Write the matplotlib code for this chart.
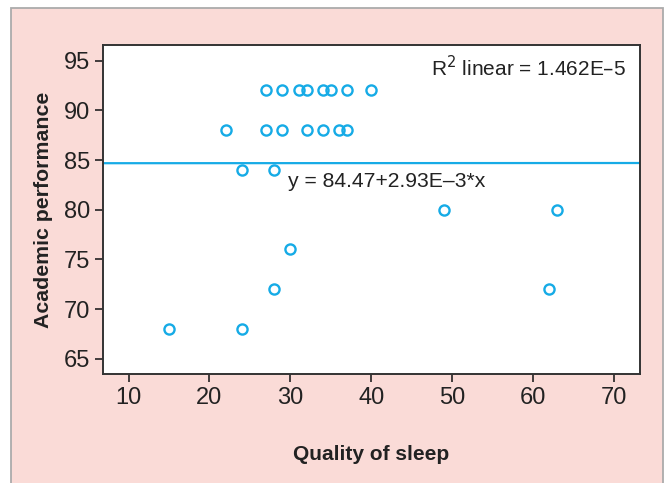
import matplotlib
matplotlib.use("Agg")
import matplotlib.pyplot as plt
from matplotlib.patches import Rectangle

plt.rcParams['font.family'] = ['Liberation Sans', 'DejaVu Sans']

# data
sleep_quality = [27, 29, 31, 32, 34, 35, 37, 40,
                 22, 27, 29, 32, 34, 36, 37,
                 24, 28,
                 49, 63,
                 30,
                 28, 62,
                 15, 24]
performance = [92, 92, 92, 92, 92, 92, 92, 92,
               88, 88, 88, 88, 88, 88, 88,
               84, 84,
               80, 80,
               76,
               72, 72,
               68, 68]
# fit line as drawn in the picture (ends at the axis limits)
fit_x = [6.84, 73.2]
fit_y = [84.68, 84.70]
r2_text = "R$^2$ linear = 1.462E\u20135"
eq_text = "y = 84.47+2.93E\u20133*x"

blue = "#16ABE6"
pink = "#FADBD7"

fig = plt.figure(figsize=(6.65, 4.83), dpi=100)
# pink panel, grey frame on left/top/right, open at the bottom
fig.patches.append(Rectangle((11 / 665, -0.05), (663 - 11) / 665, 1.05 - 8 / 483,
                             transform=fig.transFigure, facecolor=pink,
                             edgecolor="#ABABAB", linewidth=1.3, zorder=-10))

ax = fig.add_axes([103 / 665, 1 - 374 / 483, (640 - 103) / 665, (374 - 45) / 483])
ax.set_facecolor("white")

ax.plot(sleep_quality, performance, linestyle="none", marker="o", markersize=7.3,
        markerfacecolor="none", markeredgecolor=blue, markeredgewidth=1.7, zorder=3)
ax.plot(fit_x, fit_y, color=blue, linewidth=1.6, zorder=2)

ax.set_xlim(6.84, 73.2)
ax.set_ylim(63.46, 96.58)
ax.set_xticks(range(10, 71, 10))
ax.set_yticks(range(65, 96, 5))
ax.tick_params(direction="out", length=6, width=1.2, labelsize=17, colors="#222222",
               pad=3)
for s in ax.spines.values():
    s.set_linewidth(1.4)
    s.set_color("#333333")

ax.text(0.975, 0.93, r2_text, transform=ax.transAxes, ha="right", va="center",
        fontsize=15, color="#222222")
ax.text(29.7, 82.8, eq_text, ha="left", va="center", fontsize=15.2, color="#222222")

ax.set_xlabel("Quality of sleep", fontsize=15, fontweight="bold", color="#222222",
              labelpad=26)
ax.set_ylabel("Academic performance", fontsize=15.3, fontweight="bold", color="#222222",
              labelpad=8)

fig.savefig("out.png", dpi=100)
